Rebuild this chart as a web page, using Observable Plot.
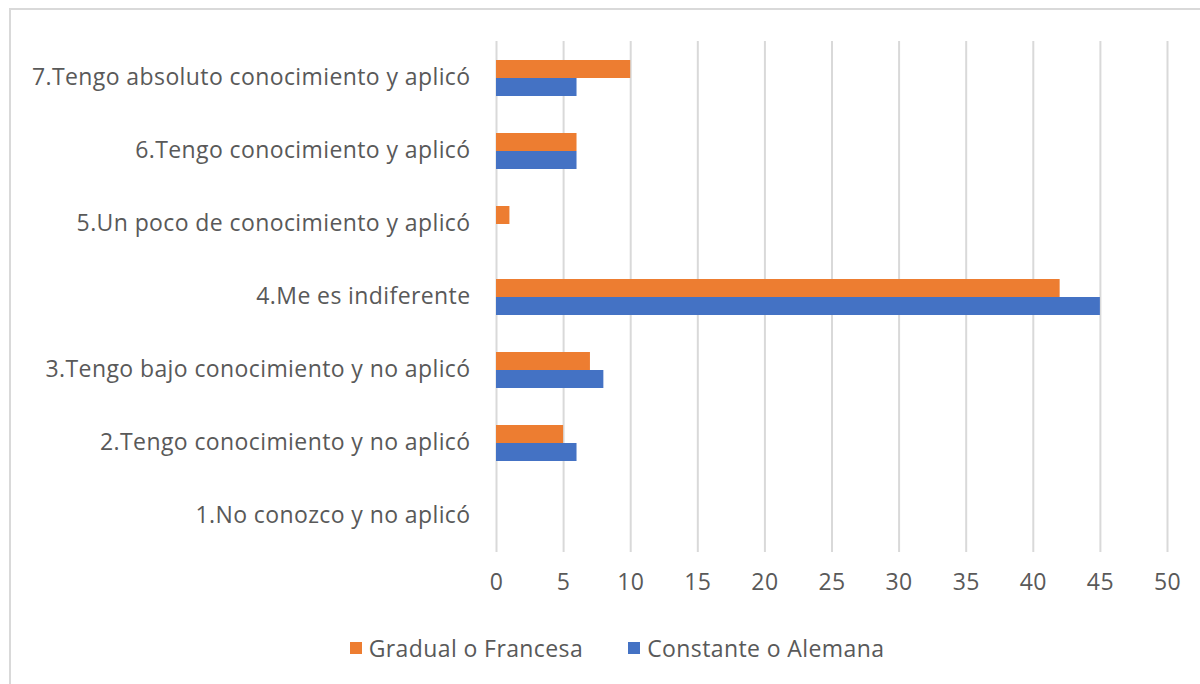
<!DOCTYPE html>
<html>
<head>
<meta charset="utf-8">
<script src="https://cdn.jsdelivr.net/npm/d3@7"></script>
<script src="https://cdn.jsdelivr.net/npm/@observablehq/plot@0.6"></script>
<style>
  html, body { margin: 0; padding: 0; width: 1200px; height: 684px; overflow: hidden; background: #fff; }
  #frame { position: absolute; left: 9px; top: 8px; width: 1220px; height: 700px; border: 2px solid #d9d9d9; box-sizing: border-box; }
  #chart { position: absolute; left: 0; top: 0; }
  #legend { position: absolute; left: 17px; top: 632px; width: 1200px; display: flex; justify-content: center; gap: 45px;
            font-family: "Open Sans", sans-serif; font-size: 23px; letter-spacing: 0.4px; color: #595959; }
  .item { display: flex; align-items: center; gap: 7px; }
  .sw { width: 12px; height: 12px; display: inline-block; }
</style>
</head>
<body>
<div id="frame"></div>
<div id="chart"></div>
<div id="legend"></div>
<script>
const categories = [
  "7.Tengo absoluto conocimiento y aplicó",
  "6.Tengo conocimiento y aplicó",
  "5.Un poco de conocimiento y aplicó",
  "4.Me es indiferente",
  "3.Tengo bajo conocimiento y no aplicó",
  "2.Tengo conocimiento y no aplicó",
  "1.No conozco y no aplicó"
];
const seriesNames = ["Gradual o Francesa", "Constante o Alemana"];
const gradual = [10, 6, 1, 42, 7, 5, 0];
const constante = [6, 6, 0, 45, 8, 6, 0];
const xTicks = [0, 5, 10, 15, 20, 25, 30, 35, 40, 45, 50];
const colors = ["#ED7D31", "#4472C4"];

const data = [];
categories.forEach((c, i) => {
  data.push({category: c, series: seriesNames[0], value: gradual[i]});
  data.push({category: c, series: seriesNames[1], value: constante[i]});
});

const chart = Plot.plot({
  width: 1200,
  height: 610,
  marginTop: 40,
  marginBottom: 58,
  marginLeft: 496,
  marginRight: 33,
  style: {fontFamily: "'Open Sans', sans-serif", fontSize: "23px", letterSpacing: "0.4px", background: "transparent", color: "#595959"},
  x: {domain: [0, 50], axis: null},
  y: {domain: seriesNames, axis: null, paddingInner: 0, paddingOuter: 1},
  fy: {domain: categories, axis: null, padding: 0},
  color: {domain: seriesNames, range: colors},
  marks: [
    Plot.gridX(xTicks, {stroke: "#d9d9d9", strokeOpacity: 1, strokeWidth: 2}),
    Plot.barX(data, {x: "value", y: "series", fy: "category", fill: "series"}),
    Plot.axisX({ticks: xTicks, tickSize: 0, tickPadding: 21, fontSize: 23, fill: "#595959", label: null}),
    Plot.axisFy({anchor: "left", tickSize: 0, tickPadding: 26, fontSize: 23, fill: "#595959", label: null})
  ]
});
document.getElementById("chart").appendChild(chart);

const legend = document.getElementById("legend");
seriesNames.forEach((s, i) => {
  const item = document.createElement("div");
  item.className = "item";
  const sw = document.createElement("span");
  sw.className = "sw";
  sw.style.background = colors[i];
  const t = document.createElement("span");
  t.textContent = s;
  item.appendChild(sw);
  item.appendChild(t);
  legend.appendChild(item);
});
</script>
</body>
</html>
